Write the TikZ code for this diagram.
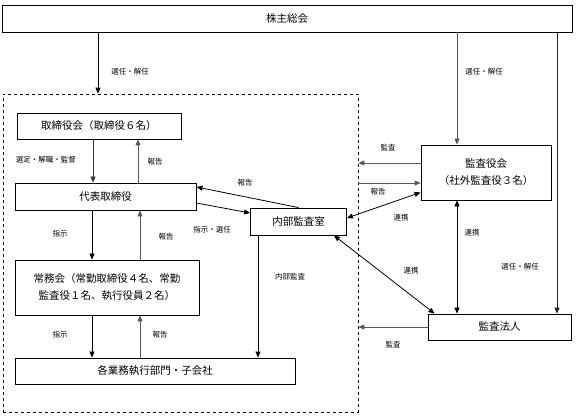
\documentclass[tikz,border=0pt]{standalone}
\usepackage{fontspec}
\setmainfont{Noto Sans CJK JP}
\usetikzlibrary{arrows.meta}
\begin{document}
\begin{tikzpicture}[x=1pt,y=-1pt,
  box/.style={draw,line width=0.9pt,inner sep=0pt,align=center,font=\fontsize{10.5}{17}\selectfont},
  lab/.style={inner sep=1pt,font=\fontsize{7.5}{8}\selectfont},
  arr/.style={line width=0.8pt,-{Triangle[length=6pt,width=5pt]}},
  darr/.style={line width=0.8pt,{Triangle[length=6pt,width=5pt]}-{Triangle[length=6pt,width=5pt]}},
  gry/.style={draw=black!65}]
\useasboundingbox (0,0) rectangle (576,417);
% boxes
\node[box,minimum width=570,minimum height=27] (sh) at (287,18.5) {株主総会};
\node[draw,dashed,line width=0.7pt,minimum width=355,minimum height=318,inner sep=0pt] (grp) at (180.5,253) {};
\node[box,minimum width=164,minimum height=26] (tb) at (99,126) {取締役会（取締役６名）};
\node[box,minimum width=181,minimum height=27] (dh) at (105.5,196.5) {代表取締役};
\node[box,minimum width=184,minimum height=55] (jm) at (107,287.5) {常務会（常勤取締役４名、常勤\\監査役１名、執行役員２名）};
\node[box,minimum width=280,minimum height=26] (kg) at (155,371) {各業務執行部門・子会社};
\node[box,minimum width=96,minimum height=27] (nb) at (298.5,221.5) {内部監査室};
\node[box,minimum width=130,minimum height=55] (ky) at (486,172.5) {監査役会\\（社外監査役３名）};
\node[box,minimum width=143,minimum height=26] (kh) at (499.5,327) {監査法人};
% x positions
\coordinate (xa) at (98,0);
\coordinate (xb) at (457,0);
\coordinate (xc) at (557,0);
\coordinate (xd) at (93,0);
\coordinate (xe) at (138,0);
\coordinate (xf) at (92,0);
\coordinate (xg) at (140,0);
\coordinate (xh) at (258,0);
\coordinate (ya) at (0,163);
\coordinate (yb) at (0,183);
% shareholders
\draw[arr] (xa |- sh.south) -- (xa |- grp.north);
\draw[arr,gry] (xb |- sh.south) -- (xb |- ky.north);
\draw[arr,draw=black!85] (xc |- sh.south) -- (xc |- kh.north);
% board
\draw[arr,draw=black!80] (xd |- tb.south) -- (xd |- dh.north);
\draw[arr,gry] (xe |- dh.north) -- (xe |- tb.south);
\draw[arr] (xf |- dh.south) -- (xf |- jm.north);
\draw[arr,gry] (xg |- jm.north) -- (xg |- dh.south);
\draw[arr] (xf |- jm.south) -- (xf |- kg.north);
\draw[arr,gry] (xg |- kg.north) -- (xg |- jm.south);
% internal audit
\draw[arr] (nb.north) -- ([yshift=9.5pt]dh.east);
\draw[arr] ([yshift=-6.5pt]dh.east) -- ([yshift=8.5pt]nb.west);
\draw[arr] (xh |- nb.south) -- (xh |- kg.north);
% auditors
\draw[arr,gry] (ky.west |- ya) -- (grp.east |- ya);
\draw[arr,gry] (grp.east |- yb) -- (ky.west |- yb);
\draw[darr] ([yshift=8pt]ky.south west) -- ([yshift=3.5pt]nb.east);
\draw[darr] (xb |- ky.south) -- (xb |- kh.north);
\draw[darr] ([xshift=-13pt]nb.south east) -- ([xshift=7pt]kh.north west);
\draw[arr,gry] (kh.west) -- (grp.east |- kh.west);
% labels
\node[lab] (l1) at (130,72) {選任・解任};
\node[lab] (l2) at (484,72) {選任・解任};
\node[lab] (l3) at (520,267) {選任・解任};
\node[lab] (l4) at (46,160) {選定・解職・監督};
\node[lab] (l5) at (155,162) {報告};
\node[lab] (l6) at (60,234) {指示};
\node[lab] (l7) at (166,237) {報告};
\node[lab] (l8) at (60,335) {指示};
\node[lab] (l9) at (160,335) {報告};
\node[lab] (l10) at (245,183) {報告};
\node[lab] (l11) at (212,230) {指示・選任};
\node[lab] (l12) at (290,277) {内部監査};
\node[lab] (l13) at (388,148) {監査};
\node[lab] (l14) at (378,192) {報告};
\node[lab] (l15) at (401,218) {連携};
\node[lab] (l16) at (472,233) {連携};
\node[lab] (l17) at (411,271) {連携};
\node[lab] (l18) at (393,345) {監査};
\end{tikzpicture}
\end{document}
